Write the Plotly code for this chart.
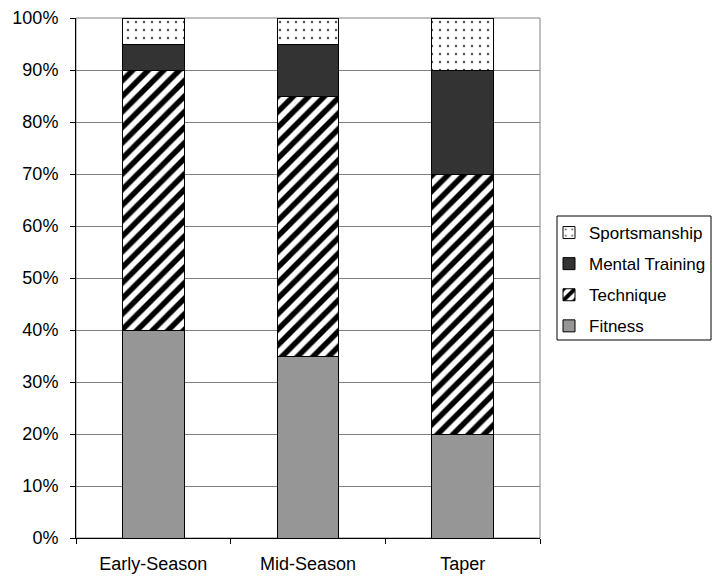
import plotly.graph_objects as go

categories = ["Early-Season", "Mid-Season", "Taper"]
fitness = [0.40, 0.35, 0.20]
technique = [0.50, 0.50, 0.50]
mental = [0.05, 0.10, 0.20]
sportsmanship = [0.05, 0.05, 0.10]

FONT = "Liberation Sans, Arial, sans-serif"

fig = go.Figure()
line = dict(color="black", width=1)
fig.add_trace(go.Bar(name="Fitness", x=categories, y=fitness, legendgroup="a", legendrank=4,
                     marker=dict(color="#969696", line=line)))
fig.add_trace(go.Bar(name="Technique", x=categories, y=technique, legendgroup="b", legendrank=3,
                     marker=dict(color="white", line=line,
                                 pattern=dict(shape="/", fgcolor="#000000", bgcolor="white",
                                              fgopacity=1, fillmode="replace",
                                              size=11, solidity=0.5))))
fig.add_trace(go.Bar(name="Mental Training", x=categories, y=mental, legendgroup="c", legendrank=2,
                     marker=dict(color="#333333", line=line)))
fig.add_trace(go.Bar(name="Sportsmanship", x=categories, y=sportsmanship, legendgroup="d", legendrank=1,
                     marker=dict(color="white", line=line,
                                 pattern=dict(shape=".", fgcolor="#555555", bgcolor="white",
                                              fgopacity=1, size=8, solidity=0.08))))

L, R, T, B = 76, 540, 18, 538
W, H = 712, 576
pw, ph = R - L, B - T

def px(x):
    return (x - L) / pw

def py(y):
    return (B - y) / ph

fig.update_layout(
    barmode="stack",
    bargap=0.6,
    width=W, height=H,
    margin=dict(l=L, r=W - R, t=T, b=H - B, autoexpand=False),
    paper_bgcolor="white", plot_bgcolor="white",
    font=dict(family=FONT, size=18, color="black"),
    showlegend=True,
    legend=dict(x=px(549), y=py(215), xanchor="left", yanchor="top",
                traceorder="grouped", borderwidth=0,
                font=dict(size=17), tracegroupgap=6, itemwidth=30,
                bgcolor="rgba(0,0,0,0)"),
    shapes=[
        dict(type="rect", xref="paper", yref="paper", x0=0, x1=1, y0=0, y1=1,
             line=dict(color="#808080", width=1), layer="below"),
        dict(type="rect", xref="paper", yref="paper", x0=px(557), x1=px(711),
             y0=py(340), y1=py(216), line=dict(color="black", width=1), layer="above"),
    ],
)
fig.update_xaxes(showline=True, linecolor="black", linewidth=1, ticks="outside",
                 tickson="boundaries", ticklen=5, tickcolor="black", showgrid=False,
                 automargin=False, ticklabelstandoff=9)
fig.update_yaxes(range=[0, 1], tickformat=".0%", dtick=0.1, showline=True,
                 linecolor="black", linewidth=1, ticks="outside", ticklen=5,
                 tickcolor="black", showgrid=True, gridcolor="#808080", gridwidth=1,
                 zeroline=False, automargin=False, ticklabelstandoff=8)

fig.write_html("out.html", config={"displayModeBar": False},
               post_script="document.body.style.margin='0px';")
